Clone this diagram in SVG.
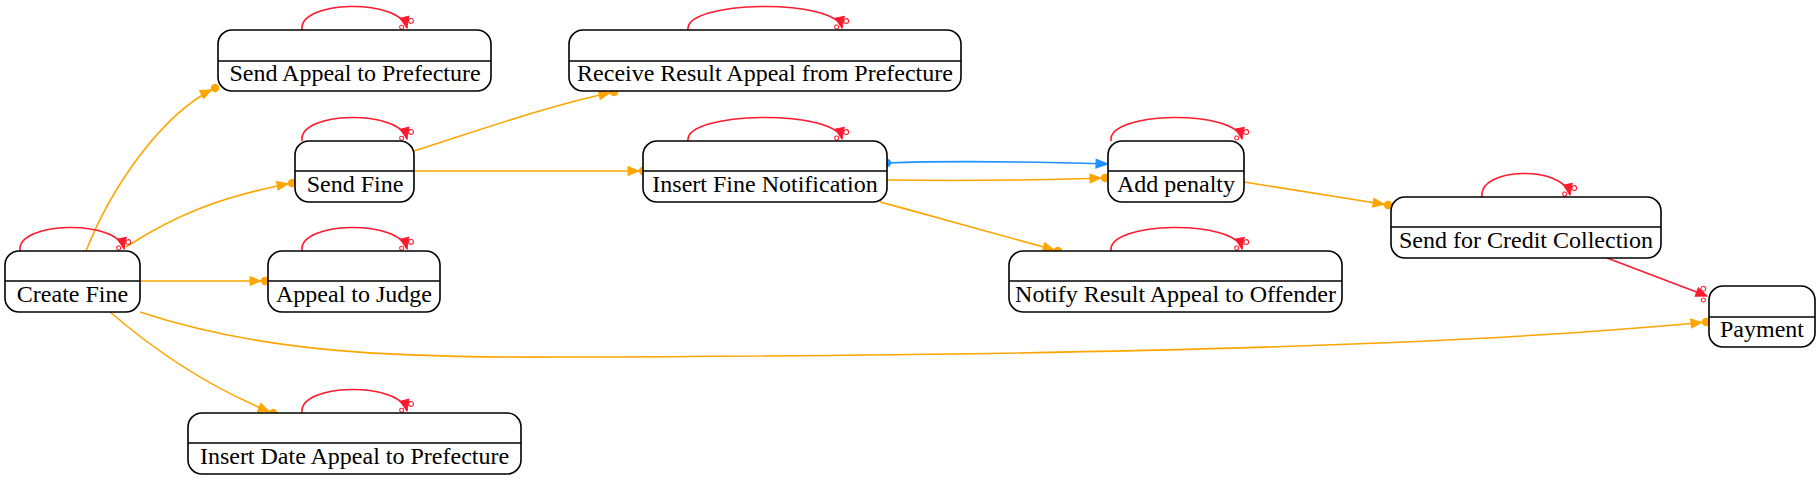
<svg xmlns="http://www.w3.org/2000/svg" width="1820" height="481" viewBox="0 0 1820 481">
<style>
.box{fill:#fff;stroke:#000;stroke-width:1.6}
.div{stroke:#000;stroke-width:1.6}
.lbl{font-family:'Liberation Serif','Times New Roman',Times,'Nimbus Roman','DejaVu Serif',serif;font-size:24px;fill:#000;text-anchor:middle}
.o{fill:none;stroke:#ffa500;stroke-width:1.6}
.r{fill:none;stroke:#ff1a2e;stroke-width:1.6}
.b{fill:none;stroke:#1e90ff;stroke-width:1.6}
</style>
<defs>
<marker id="mo" markerUnits="userSpaceOnUse" markerWidth="30" markerHeight="20" viewBox="-20 -10 30 20" refX="0" refY="0" orient="auto">
<path d="M-15,-4.5 L-4,0 L-15,4.5 Z" fill="#ffa500" stroke="#ffa500" stroke-width="1"/>
<circle cx="0" cy="0" r="4.2" fill="#ffa500"/>
</marker>
<marker id="mb" markerUnits="userSpaceOnUse" markerWidth="30" markerHeight="20" viewBox="-20 -10 30 20" refX="0" refY="0" orient="auto">
<path d="M-12,-4.5 L0,0 L-12,4.5 Z" fill="#1e90ff" stroke="#1e90ff" stroke-width="1"/>
</marker>
<marker id="mbs" markerUnits="userSpaceOnUse" markerWidth="20" markerHeight="20" viewBox="-10 -10 20 20" refX="0" refY="0" orient="auto">
<circle cx="0" cy="0" r="4.2" fill="#1e90ff"/>
</marker>
<marker id="mr" markerUnits="userSpaceOnUse" markerWidth="30" markerHeight="24" viewBox="-20 -12 30 24" refX="0" refY="0" orient="auto">
<path d="M-11,-4.5 L0,0 L-11,4.5 Z" fill="#ff1a2e" stroke="#ff1a2e" stroke-width="1"/>
<circle cx="-6" cy="-5.5" r="2.4" fill="none" stroke="#ff1a2e" stroke-width="1.1"/>
<circle cx="-2" cy="5" r="2" fill="none" stroke="#ff1a2e" stroke-width="1"/>
</marker>
</defs>

<g id="connectors">
<path class="o" d="M86,251 C110,190 160,115 215,88" marker-end="url(#mo)"/>
<path class="o" d="M126,247 C175,215 220,197 292,183" marker-end="url(#mo)"/>
<path class="o" d="M140,281 L265,281" marker-end="url(#mo)"/>
<path class="o" d="M110,312 C160,355 215,390 273,413" marker-end="url(#mo)"/>
<path class="o" d="M140,312 C260,352 390,358 560,357 C900,356 1400,352 1706,322" marker-end="url(#mo)"/>
<path class="o" d="M414,151 C480,130 550,105 614,92" marker-end="url(#mo)"/>
<path class="o" d="M414,171 L643,171" marker-end="url(#mo)"/>
<path class="b" d="M887,163 C960,160 1040,162 1108,164" marker-start="url(#mbs)" marker-end="url(#mb)"/>
<path class="o" d="M887,180 C960,181 1040,180 1105,178" marker-end="url(#mo)"/>
<path class="o" d="M880,202 C940,218 1000,235 1058,251" marker-end="url(#mo)"/>
<path class="o" d="M1244,182 L1388,205" marker-end="url(#mo)"/>
<path class="r" d="M1607,258 L1707,296" marker-end="url(#mr)"/>
<path class="r" d="M20,251 C16,221 118,219 124,249" marker-end="url(#mr)"/>
<path class="r" d="M302,30 C298,0 400,-2 407,28" marker-end="url(#mr)"/>
<path class="r" d="M302,141 C298,111 400,109 407,139" marker-end="url(#mr)"/>
<path class="r" d="M688,30 C684,0 836,-2 842,28" marker-end="url(#mr)"/>
<path class="r" d="M688,141 C684,111 836,109 842,139" marker-end="url(#mr)"/>
<path class="r" d="M1111,141 C1107,111 1236,109 1242,139" marker-end="url(#mr)"/>
<path class="r" d="M1111,251 C1107,221 1236,219 1242,249" marker-end="url(#mr)"/>
<path class="r" d="M1482,197 C1478,167 1564,165 1570,195" marker-end="url(#mr)"/>
<path class="r" d="M302,251 C298,221 400,219 407,249" marker-end="url(#mr)"/>
<path class="r" d="M302,413 C298,383 400,381 407,411" marker-end="url(#mr)"/>
</g>

<g id="create_fine">
<rect class="box" x="5" y="251" width="135" height="61" rx="14"/>
<line class="div" x1="5" y1="281" x2="140" y2="281"/>
<text class="lbl" x="72.5" y="302">Create Fine</text>
</g>
<g id="send_appeal_prefecture">
<rect class="box" x="218" y="30" width="273" height="61" rx="14"/>
<line class="div" x1="218" y1="61" x2="491" y2="61"/>
<text class="lbl" x="355" y="81">Send Appeal to Prefecture</text>
</g>
<g id="send_fine">
<rect class="box" x="295" y="141" width="119" height="61" rx="14"/>
<line class="div" x1="295" y1="171" x2="414" y2="171"/>
<text class="lbl" x="355" y="192">Send Fine</text>
</g>
<g id="appeal_judge">
<rect class="box" x="268" y="251" width="172" height="61" rx="14"/>
<line class="div" x1="268" y1="281" x2="440" y2="281"/>
<text class="lbl" x="354" y="302">Appeal to Judge</text>
</g>
<g id="insert_date_appeal">
<rect class="box" x="188" y="413" width="333" height="61" rx="14"/>
<line class="div" x1="188" y1="443" x2="521" y2="443"/>
<text class="lbl" x="354.5" y="464">Insert Date Appeal to Prefecture</text>
</g>
<g id="receive_result_appeal">
<rect class="box" x="569" y="30" width="392" height="61" rx="14"/>
<line class="div" x1="569" y1="61" x2="961" y2="61"/>
<text class="lbl" x="765" y="81">Receive Result Appeal from Prefecture</text>
</g>
<g id="insert_fine_notification">
<rect class="box" x="643" y="141" width="244" height="61" rx="14"/>
<line class="div" x1="643" y1="171" x2="887" y2="171"/>
<text class="lbl" x="765" y="192">Insert Fine Notification</text>
</g>
<g id="add_penalty">
<rect class="box" x="1108" y="141" width="136" height="61" rx="14"/>
<line class="div" x1="1108" y1="171" x2="1244" y2="171"/>
<text class="lbl" x="1176" y="192">Add penalty</text>
</g>
<g id="notify_result_appeal">
<rect class="box" x="1009" y="251" width="333" height="61" rx="14"/>
<line class="div" x1="1009" y1="281" x2="1342" y2="281"/>
<text class="lbl" x="1175.5" y="302">Notify Result Appeal to Offender</text>
</g>
<g id="send_credit_collection">
<rect class="box" x="1391" y="197" width="270" height="61" rx="14"/>
<line class="div" x1="1391" y1="227" x2="1661" y2="227"/>
<text class="lbl" x="1526" y="248">Send for Credit Collection</text>
</g>
<g id="payment">
<rect class="box" x="1709" y="286" width="106" height="61" rx="14"/>
<line class="div" x1="1709" y1="317" x2="1815" y2="317"/>
<text class="lbl" x="1762" y="337">Payment</text>
</g>
</svg>
